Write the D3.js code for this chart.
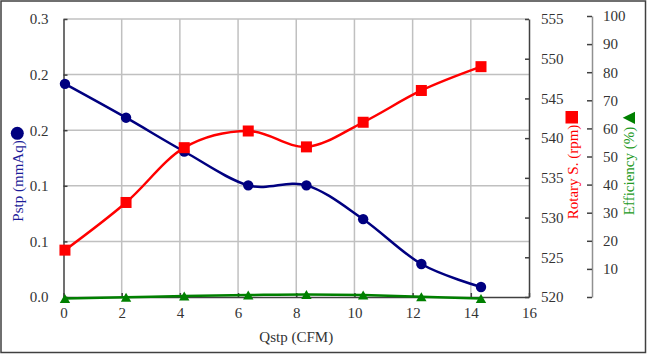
<!DOCTYPE html>
<html>
<head>
<meta charset="utf-8">
<script src="https://cdn.jsdelivr.net/npm/d3@7"></script>
<style>
  html, body { margin: 0; padding: 0; background: #fff; }
  svg { display: block; }
  text { font-family: "Liberation Serif", "Times New Roman", serif; }
</style>
</head>
<body>
<svg id="chart" width="647" height="356"></svg>
<script>
// ---- data ----
const qstp       = [0.05, 2.15, 4.15, 6.35, 8.35, 10.3, 12.3, 14.35];
const pstp       = [0.230, 0.1935, 0.157, 0.1205, 0.1205, 0.084, 0.0356, 0.0108];
const rotary     = [525.9, 531.9, 538.8, 540.9, 538.9, 542.0, 546.0, 549.0];
const efficiency = [-0.5, -0.1, 0.4, 0.7, 0.9, 0.7, 0.1, -0.5];

const xTicks      = [0, 2, 4, 6, 8, 10, 12, 14, 16];
const pstpTicks   = [0, 0.06, 0.12, 0.18, 0.24, 0.3];
const rotaryTicks = [520, 525, 530, 535, 540, 545, 550, 555];
const effTicks    = [0, 10, 20, 30, 40, 50, 60, 70, 80, 90, 100];

const xTitle = "Qstp (CFM)";
const pstpTitle = "Pstp (mmAq)";
const rotaryTitle = "Rotary S. (rpm)";
const effTitle = "Efficiency (%)";

// ---- layout ----
const svg = d3.select("#chart");
const L = 63.5, R = 529, T = 19, B = 297;
const fontSize = 15;
const axisCol = "#404040", gridCol = "#c0c0c0", txtCol = "#333";
const cPstp = "#000080", cRot = "#ff0000", cEff = "#008000";

const x = d3.scaleLinear().domain([0, 16]).range([L, R]);
const yP = d3.scaleLinear().domain([0, 0.3]).range([B, T]);
const yR = d3.scaleLinear().domain([520, 555]).range([B, T]);
const yE = d3.scaleLinear().domain([0, 100]).range([B, 16]);

// outer border
svg.append("rect").attr("x", 1).attr("y", 1).attr("width", 644.5).attr("height", 351.5)
  .attr("fill", "#fff").attr("stroke", axisCol).attr("stroke-width", 1.5);

// grid
const grid = svg.append("g");
grid.selectAll("line.h").data(pstpTicks.filter(d => d > 0)).join("line")
  .attr("x1", L).attr("x2", R).attr("y1", d => yP(d)).attr("y2", d => yP(d))
  .attr("stroke", gridCol).attr("stroke-width", 1.5);
grid.selectAll("line.v").data(xTicks.filter(d => d > 0 && d < 16)).join("line")
  .attr("y1", T).attr("y2", B).attr("x1", d => x(d)).attr("x2", d => x(d))
  .attr("stroke", gridCol).attr("stroke-width", 1.5);

function styleAxis(g, lineCol) {
  g.selectAll("text").attr("font-size", fontSize).attr("fill", txtCol)
    .attr("font-family", '"Liberation Serif", serif');
  g.selectAll(".tick line").attr("stroke", axisCol).attr("stroke-width", 1.5);
  g.select(".domain").attr("stroke", lineCol || axisCol).attr("stroke-width", 1.5);
}

// x axis
svg.append("g").attr("transform", `translate(0,${B})`)
  .call(d3.axisBottom(x).tickValues(xTicks).tickFormat(d3.format("d"))
    .tickSizeInner(-4).tickSizeOuter(0).tickPadding(10))
  .call(g => styleAxis(g));

// left axis
svg.append("g").attr("transform", `translate(${L},0)`)
  .call(d3.axisLeft(yP).tickValues(pstpTicks).tickFormat(d3.format(".1f"))
    .tickSizeInner(-4).tickSizeOuter(0).tickPadding(15))
  .call(g => styleAxis(g));

// rotary axis
svg.append("g").attr("transform", `translate(${R},0)`)
  .call(d3.axisRight(yR).tickValues(rotaryTicks).tickFormat(d3.format("d"))
    .tickSizeInner(-4).tickSizeOuter(0).tickPadding(12))
  .call(g => styleAxis(g));

// efficiency axis
svg.append("g").attr("transform", `translate(592,0)`)
  .call(d3.axisRight(yE).tickValues(effTicks).tickFormat(d => d === 0 ? "" : d3.format("d")(d))
    .tickSizeInner(-5).tickSizeOuter(0).tickPadding(11))
  .call(g => styleAxis(g, "#909090"));

// series lines
const curve = d3.curveCardinal.tension(0);
function drawLine(vals, yScale, col) {
  const pts = qstp.map((q, i) => [x(q), yScale(vals[i])]);
  svg.append("path").attr("d", d3.line().curve(curve)(pts))
    .attr("fill", "none").attr("stroke", col).attr("stroke-width", 2.5);
  return pts;
}
const pP = drawLine(pstp, yP, cPstp);
svg.selectAll("circle.p").data(pP).join("circle")
  .attr("cx", d => d[0]).attr("cy", d => d[1]).attr("r", 5.2).attr("fill", cPstp);

const pR = drawLine(rotary, yR, cRot);
svg.selectAll("rect.r").data(pR).join("rect")
  .attr("x", d => d[0] - 5.5).attr("y", d => d[1] - 5.5).attr("width", 11).attr("height", 11)
  .attr("fill", cRot);

const pE = drawLine(efficiency, yE, cEff);
const tri = "M0,-4.5L5.2,4.5L-5.2,4.5Z";
svg.selectAll("path.e").data(pE).join("path")
  .attr("d", tri).attr("transform", d => `translate(${d[0]},${d[1]})`).attr("fill", cEff);

// titles
svg.append("text").attr("x", x(8)).attr("y", 342).attr("text-anchor", "middle")
  .attr("font-size", fontSize).attr("fill", txtCol).text(xTitle);

svg.append("text").attr("transform", "translate(18,181) rotate(-90)")
  .attr("text-anchor", "middle").attr("dominant-baseline", "central")
  .attr("font-size", fontSize).attr("fill", "#1c1c99").text(pstpTitle);
svg.append("circle").attr("cx", 17.3).attr("cy", 133.3).attr("r", 6.5).attr("fill", cPstp);

svg.append("text").attr("transform", "translate(572.7,172) rotate(-90)")
  .attr("text-anchor", "middle").attr("dominant-baseline", "central")
  .attr("font-size", fontSize).attr("fill", cRot).text(rotaryTitle);
svg.append("rect").attr("x", 565.5).attr("y", 111).attr("width", 12.5).attr("height", 12.5).attr("fill", cRot);

svg.append("text").attr("transform", "translate(629,171) rotate(-90)")
  .attr("text-anchor", "middle").attr("dominant-baseline", "central")
  .attr("font-size", fontSize).attr("fill", "#229922").text(effTitle);
svg.append("path").attr("d", "M622.7,117.8L635,111.7L635,124Z").attr("fill", cEff);
</script>
</body>
</html>
